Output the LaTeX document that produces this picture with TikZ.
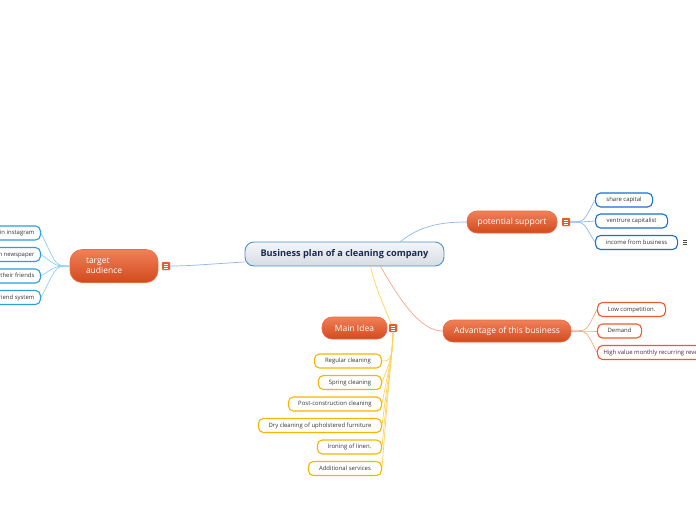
\documentclass[tikz,border=0pt]{standalone}
\usepackage{fontspec}
\setmainfont{Open Sans}
\definecolor{orTop}{HTML}{F08058}
\definecolor{orBot}{HTML}{D24A1E}
\definecolor{orBorder}{HTML}{E86A40}
\definecolor{orIcon}{HTML}{E8572C}
\definecolor{blueLeaf}{HTML}{1A6FD0}
\definecolor{lblueLeaf}{HTML}{2A9EE0}
\definecolor{orLeaf}{HTML}{F05A28}
\definecolor{yeLeaf}{HTML}{F8B400}
\definecolor{blueLine}{HTML}{8CB8EC}
\definecolor{lblueLine}{HTML}{8ED0F0}
\definecolor{orLine}{HTML}{F8A488}
\definecolor{yeLine}{HTML}{FFD25A}
\definecolor{cenTop}{HTML}{F4F6F8}
\definecolor{cenBot}{HTML}{D6DCE2}
\definecolor{cenBorder}{HTML}{4A90D0}
\definecolor{cenText}{HTML}{1C2A50}
\tikzset{
  leaf/.style={draw, rounded corners=5pt, line width=1.1pt, fill=white,
    font=\fontsize{5.95}{6.5}\selectfont, text=black!80, inner xsep=6pt,
    minimum height=14pt, text height=4.5pt, text depth=1.3pt},
  mainnode/.style={rounded corners=10pt, top color=orTop, bottom color=orBot,
    draw=orBorder, line width=0.6pt, text=white, font=\fontsize{8.5}{10}\selectfont,
    minimum height=22pt},
  icon/.style={fill=orIcon, draw=orTop, minimum size=8pt, inner sep=0pt, rounded corners=1pt,
    path picture={\foreach \yy in {-2,0,2}{\draw[white,line width=0.6pt]
      ([xshift=-2.2pt,yshift=\yy pt]path picture bounding box.center) -- ++(4.4pt,0);}}},
  conn/.style={line width=0.7pt}
}
\begin{document}
\begin{tikzpicture}[x=1pt,y=-1pt]
\useasboundingbox (0,0) rectangle (696,520);

% central
\node[draw=cenBorder, line width=0.9pt, rounded corners=9pt, top color=cenTop, bottom color=cenBot,
  minimum width=199pt, minimum height=24pt, text=cenText, font=\bfseries\fontsize{9.2}{10}\selectfont]
  (c) at (344.5,254) {Business plan of a cleaning company};

% main nodes
\node[mainnode, minimum width=88pt, minimum height=33pt, align=left, text width=56pt, rounded corners=12pt]
  (ta) at (114,266) {target\\audience};
\node[icon] (tai) at (166,266) {};

\node[mainnode, minimum width=90pt] (ps) at (512,222) {potential support};
\node[icon] (psi) at (566,222) {};

\node[mainnode, minimum width=128pt] (adv) at (507,331) {Advantage of this business};

\node[mainnode, minimum width=65pt] (mi) at (354.5,328) {Main Idea};
\node[icon] (mii) at (393,328) {};

% main connectors
\draw[conn, blueLine] (c.west) ++(0,8) coordinate (cw) .. controls (210,264) and (190,266) .. (tai.east);
\draw[conn, blueLine] (c.north east) ++(-44,0) coordinate (cne) .. controls (420,226) and (440,222) .. (ps.west);
\draw[conn, yeLine] (c.south) ++(26,0) coordinate (cs1) .. controls (376,290) and (384,305) .. ([xshift=-2pt]mii.north);
\draw[conn, orLine] (c.south) ++(36,0) coordinate (cs2) .. controls (400,300) and (420,331) .. (adv.west);

% potential support leaves
\node[leaf, draw=blueLeaf, anchor=west, minimum width=57pt] (p1) at (595,200) {share capital};
\node[leaf, draw=blueLeaf, anchor=west, minimum width=72pt] (p2) at (595,221) {ventrure capitalist};
\node[leaf, draw=blueLeaf, anchor=west, minimum width=82pt] (p3) at (595,242.5) {income from business};
\foreach \n in {p1,p2,p3}{
  \draw[conn, blueLine] (psi.east) .. controls (585,222) and (583,222) .. (\n.west);
}
\node[inner sep=0pt, minimum size=6pt] (note) at (685,242) {};
\foreach \yy in {-1.8,0,1.8}{\draw[black!70, line width=0.6pt] ([xshift=-2.2pt,yshift=\yy pt]note.center) -- ++(4.4pt,0);}

% advantage leaves
\node[leaf, draw=orLeaf, anchor=west, minimum width=68pt] (a1) at (597,309.5) {Low competition.};
\node[leaf, draw=orLeaf, anchor=west, minimum width=44pt] (a2) at (597,331) {Demand};
\node[leaf, draw=orLeaf, anchor=west] (a3) at (597,352.5) {High value monthly recurring revenue};
\foreach \n in {a1,a2,a3}{
  \draw[conn, orLine] (adv.east) .. controls (588,331) and (586,331) .. (\n.west);
}

% target audience leaves
\node[leaf, draw=lblueLeaf, anchor=east] (t1) at (41,233) {Advertising in instagram};
\node[leaf, draw=lblueLeaf, anchor=east] (t2) at (41,254.5) {Advertising in newspaper};
\node[leaf, draw=lblueLeaf, anchor=east] (t3) at (41,276) {Clients recommend to their friends};
\node[leaf, draw=lblueLeaf, anchor=east] (t4) at (41,297.5) {Bring a friend system};
\foreach \n in {t1,t2,t3,t4}{
  \draw[conn, lblueLine] (ta.west) .. controls (55,266) and (57,266) .. (\n.east);
}

% main idea leaves
\node[leaf, draw=yeLeaf, anchor=east, minimum width=67pt] (m1) at (382,361) {Regular cleaning};
\node[leaf, draw=yeLeaf, anchor=east, minimum width=63pt] (m2) at (382,382.5) {Spring cleaning};
\node[leaf, draw=yeLeaf, anchor=east, minimum width=93pt] (m3) at (382,404) {Post-construction cleaning};
\node[leaf, draw=yeLeaf, anchor=east, minimum width=123pt] (m4) at (382,425.5) {Dry cleaning of upholstered furniture};
\node[leaf, draw=yeLeaf, anchor=east, minimum width=64pt] (m5) at (382,447) {Ironing of linen.};
\node[leaf, draw=yeLeaf, anchor=east, minimum width=73pt] (m6) at (382,468.5) {Additional services};
\foreach \n in {m1,m2,m3,m4,m5,m6}{
  \draw[conn, yeLine] ([yshift=-1pt]mii.south) .. controls (392,360) and (390,361) .. (\n.east);
}
\end{tikzpicture}
\end{document}
